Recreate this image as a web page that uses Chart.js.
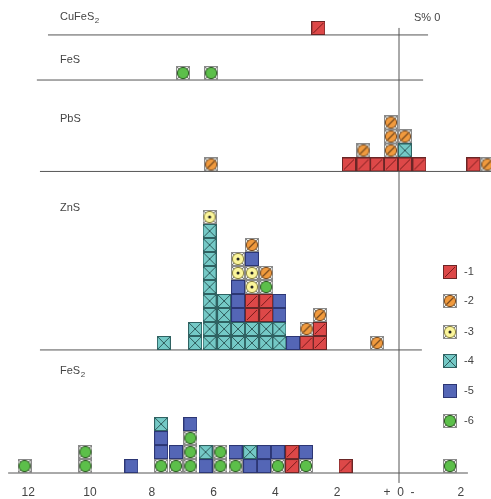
<!DOCTYPE html>
<html>
<head>
<meta charset="utf-8">
<script src="https://cdn.jsdelivr.net/npm/chart.js@4.4.1/dist/chart.umd.min.js"></script>
<style>
  html, body { margin: 0; padding: 0; background: #fff; }
  #wrap { position: relative; width: 491px; height: 499px; }
</style>
</head>
<body>
<div id="wrap"><canvas id="chart"></canvas></div>
<script>
/* Sulphur isotope histogram: one stacked column of symbols per value,
   five mineral panels sharing one x axis (S per mil, + 0 -). */

// ---- data: x value of each column, stack of type codes bottom -> top ----
const typeCodes = ['1', '2', '3', '4', '5', '6'];
const typeLabels = ['-1', '-2', '-3', '-4', '-5', '-6'];
const panelNames = ['CuFeS2', 'FeS', 'PbS', 'ZnS', 'FeS2'];

const cufes2X = [2.61];
const cufes2Stacks = ['1'];

const fesX = [6.99, 6.08];
const fesStacks = ['6', '6'];

const pbsX = [6.08, 1.62, 1.15, 0.71, 0.26, -0.19, -0.66, -2.41, -2.86];
const pbsStacks = ['2', '1', '12', '1', '1222', '142', '1', '1', '2'];

const znsX = [7.61, 6.60, 6.13, 5.66, 5.21, 4.76, 4.30, 3.87, 3.43, 2.99, 2.56, 0.71];
const znsStacks = ['4', '44', '4444444443', '4444', '4455533', '44113352', '441162', '4455', '5', '12', '112', '2'];

const fes2X = [12.12, 10.15, 8.66, 7.70, 7.22, 6.75, 6.26, 5.78, 5.29, 4.82, 4.37, 3.92, 3.46, 3.01, 1.73, -1.65];
const fes2Stacks = ['6', '66', '5', '6554', '65', '6665', '54', '66', '65', '54', '55', '65', '11', '65', '1', '6'];

const tickValues = [12, 10, 8, 6, 4, 2, 0, -2];

// ---- layout (rows of one symbol height, FeS2 baseline = 0) ----
const panelBase = [31.29, 28.07, 21.54, 8.79, 0];
const panelLineFrom = [11.36, 11.72, 11.62, 11.62, 12.65];
const panelLineTo = [-0.94, -0.78, -3.2, -0.74, -2.23];
const panelLabelY = [17, 60, 119, 208, 371];
const legendY = [272, 301, 332, 361, 391, 421];

const colors = {
  line: '#555',
  text: '#444',
  red: '#dd4848', orange: '#f09a3e', yellow: '#fbf59a',
  cyan: '#74c9c6', blue: '#5466b6', green: '#5cbf4a'
};

// ---- symbol images used as point styles ----
const SZ = 14;
function makeSymbol(code) {
  const c = document.createElement('canvas');
  c.width = SZ; c.height = SZ;
  const g = c.getContext('2d');
  const square = (fill, stroke) => {
    g.fillStyle = fill;
    g.fillRect(0, 0, SZ, SZ);
    g.strokeStyle = stroke;
    g.lineWidth = 1;
    g.strokeRect(0.5, 0.5, SZ - 1, SZ - 1);
  };
  const seg = (x1, y1, x2, y2, col, w) => {
    g.beginPath(); g.moveTo(x1, y1); g.lineTo(x2, y2);
    g.strokeStyle = col; g.lineWidth = w || 1; g.stroke();
  };
  const circle = (fill, stroke) => {
    square('#eceee9', '#8a8a8a');
    seg(1, 1, SZ - 1, SZ - 1, '#777');
    seg(SZ - 1, 1, 1, SZ - 1, '#777');
    g.beginPath(); g.arc(SZ / 2, SZ / 2, 5.6, 0, Math.PI * 2);
    g.fillStyle = fill; g.fill();
    g.strokeStyle = stroke; g.lineWidth = 1; g.stroke();
  };
  if (code === '1') {
    square(colors.red, '#6a2626');
    seg(2, SZ - 2, SZ - 2, 2, '#7a1c1c');
  } else if (code === '2') {
    circle(colors.orange, '#7a4a1e');
    seg(3.5, SZ - 3.5, SZ - 3.5, 3.5, '#7a4a1e', 1.2);
  } else if (code === '3') {
    circle(colors.yellow, '#8a8240');
    g.beginPath(); g.arc(SZ / 2, SZ / 2, 1.5, 0, Math.PI * 2);
    g.fillStyle = '#222'; g.fill();
  } else if (code === '4') {
    square(colors.cyan, '#2f6262');
    seg(1, 1, SZ - 1, SZ - 1, '#2f5c5c');
    seg(SZ - 1, 1, 1, SZ - 1, '#2f5c5c');
  } else if (code === '5') {
    square(colors.blue, '#2c3674');
  } else {
    circle(colors.green, '#2c5a22');
  }
  return c;
}
const symbols = typeCodes.map(makeSymbol);

// ---- build one scatter dataset per symbol type ----
const panelX = [cufes2X, fesX, pbsX, znsX, fes2X];
const panelStacks = [cufes2Stacks, fesStacks, pbsStacks, znsStacks, fes2Stacks];

const pointsByType = typeCodes.map(() => []);
panelX.forEach((xs, p) => {
  xs.forEach((x, i) => {
    const stack = panelStacks[p][i];
    for (let level = 0; level < stack.length; level++) {
      const t = typeCodes.indexOf(stack[level]);
      pointsByType[t].push({ x: x, y: panelBase[p] + level + 0.5 });
    }
  });
});

const datasets = typeCodes.map((code, t) => ({
  label: typeLabels[t],
  data: pointsByType[t],
  pointStyle: symbols[t],
  pointRadius: 7,
  pointHoverRadius: 7,
  clip: false
}));

// panel baselines
panelNames.forEach((name, p) => {
  datasets.push({
    label: name,
    type: 'line',
    data: [{ x: panelLineFrom[p], y: panelBase[p] }, { x: panelLineTo[p], y: panelBase[p] }],
    borderColor: colors.line,
    borderWidth: 1,
    pointRadius: 0,
    clip: false
  });
});
// zero line
datasets.push({
  label: 'zero',
  type: 'line',
  data: [{ x: 0, y: -0.71 }, { x: 0, y: 31.79 }],
  borderColor: colors.line,
  borderWidth: 1,
  pointRadius: 0,
  clip: false
});

// ---- texts: panel names, axis title, legend ----
const labelsPlugin = {
  id: 'panelLabels',
  afterDraw(chart) {
    const ctx = chart.ctx;
    ctx.save();
    ctx.fillStyle = colors.text;
    ctx.textBaseline = 'middle';
    ctx.textAlign = 'left';
    panelNames.forEach((name, p) => {
      const sub = name.endsWith('2');
      const main = sub ? name.slice(0, -1) : name;
      ctx.font = '11px "Liberation Sans", Arial, sans-serif';
      ctx.fillText(main, 60, panelLabelY[p]);
      if (sub) {
        const w = ctx.measureText(main).width;
        ctx.font = '8px "Liberation Sans", Arial, sans-serif';
        ctx.fillText('2', 60 + w + 0.5, panelLabelY[p] + 4);
      }
    });
    ctx.font = '11px "Liberation Sans", Arial, sans-serif';
    ctx.fillText('S% 0', 414, 18);

    // legend
    typeCodes.forEach((code, t) => {
      ctx.drawImage(symbols[t], 443, legendY[t] - SZ / 2);
      ctx.fillText(typeLabels[t], 464, legendY[t]);
    });
    ctx.restore();
  }
};

new Chart(document.getElementById('chart'), {
  type: 'scatter',
  data: { datasets },
  options: {
    responsive: true,
    maintainAspectRatio: false,
    animation: false,
    events: [],
    layout: { padding: 0, autoPadding: false },
    plugins: {
      legend: { display: false },
      tooltip: { enabled: false }
    },
    scales: {
      x: {
        type: 'linear',
        reverse: true,
        min: -2.977,
        max: 12.913,
        grid: { display: false, drawTicks: false },
        border: { display: false },
        afterBuildTicks: (scale) => {
          scale.ticks = tickValues.map(v => ({ value: v }));
        },
        ticks: {
          padding: 0,
          color: colors.text,
          font: { size: 12, family: '"Liberation Sans", Arial, sans-serif', lineHeight: 1 },
          maxRotation: 0,
          autoSkip: false,
          callback: (v) => v === 0 ? '+  0  -' : String(Math.abs(v))
        }
      },
      y: {
        display: false,
        min: -1.0,
        max: 33.786
      }
    }
  },
  plugins: [labelsPlugin]
});
</script>
</body>
</html>
